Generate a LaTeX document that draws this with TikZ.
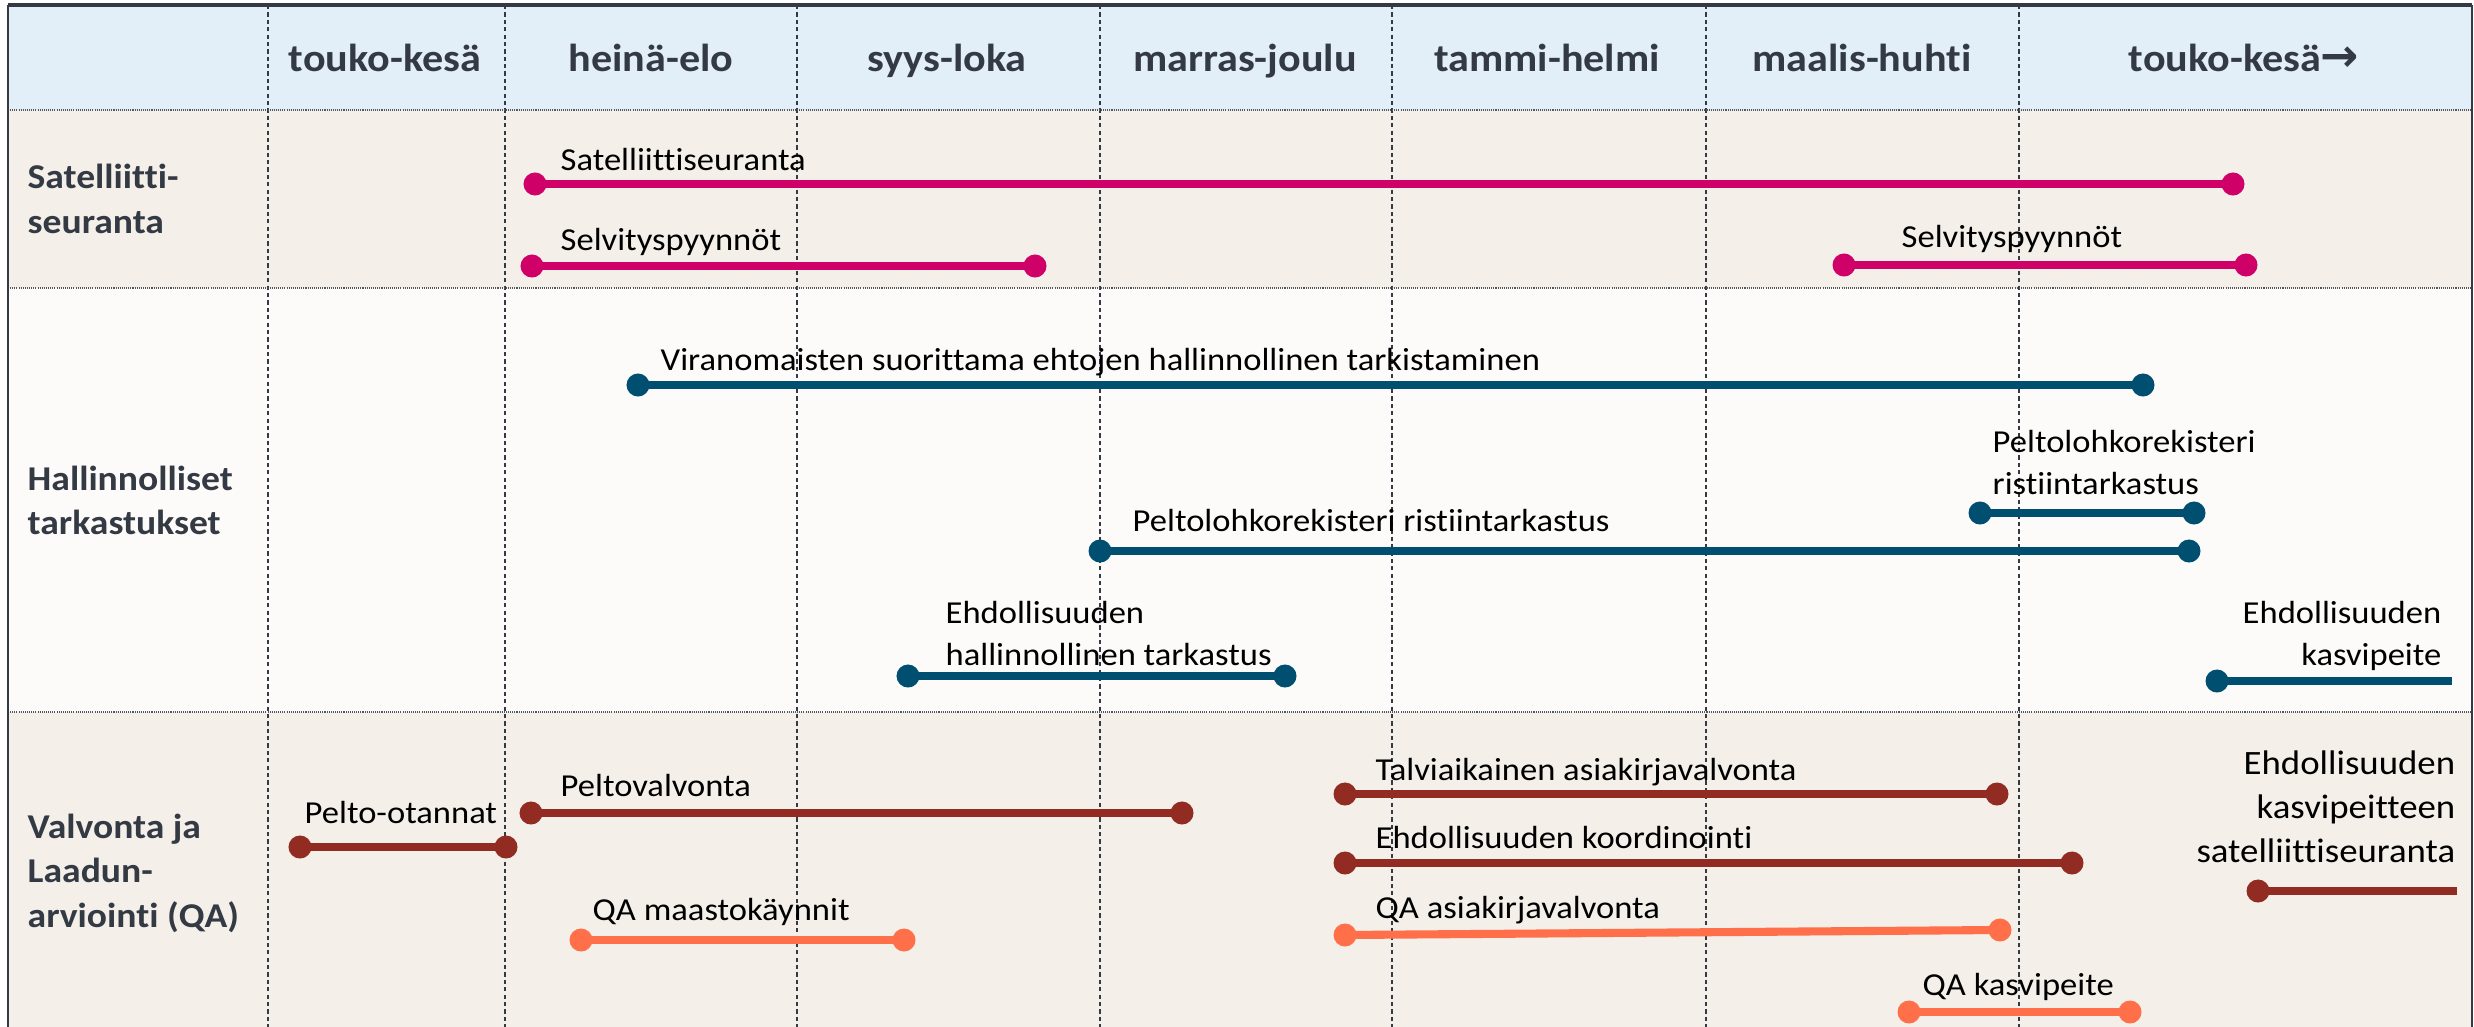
\documentclass[tikz,border=0pt]{standalone}
\usepackage{fontspec}
\setmainfont{Carlito}[FakeStretch=1.08, Ligatures={NoCommon}]
\newfontfamily\arrowfont{DejaVu Sans}
\definecolor{hdrbg}{HTML}{E2EEF8}
\definecolor{beige}{HTML}{F4F0E9}
\definecolor{paper}{HTML}{FCFBF9}
\definecolor{ink}{HTML}{343A44}
\definecolor{mag}{HTML}{CF0068}
\definecolor{navy}{HTML}{004F71}
\definecolor{brick}{HTML}{922B21}
\definecolor{coral}{HTML}{FF6F4A}
\pgfdeclarelayer{bg}
\pgfdeclarelayer{bars}
\pgfsetlayers{bg,bars,main}
\tikzset{
  hdr/.style={anchor=base, inner sep=0pt, text=ink, font=\fontsize{11.1}{13}\selectfont\bfseries},
  rowlab/.style={anchor=base west, inner sep=0pt, text=ink, font=\fontsize{9.9}{12.7}\selectfont\bfseries},
  lab/.style={anchor=base west, inner sep=0pt, text=black, font=\fontsize{9.1}{12}\selectfont},
  labr/.style={lab, anchor=base east},
  dot/.style={circle, fill=#1, inner sep=0pt, minimum size=0.23cm},
  bar/.style={draw=#1, line width=2.3pt},
  gridline/.style={draw=ink, line width=0.6pt, dash pattern=on 1.2pt off 0.9pt},
  sepline/.style={draw=ink!85, line width=0.8pt, dash pattern=on 0.3pt off 0.3pt},
  frame/.style={draw=ink, line width=0.6pt},
}
\begin{document}
\begin{tikzpicture}[x=0.01cm, y=-0.01cm]
\useasboundingbox (0,0) rectangle (2474,1027);
\begin{pgfonlayer}{bg}
  \fill[white] (0,0) rectangle (2474,1027);
  \fill[hdrbg] (8,5) rectangle (2472,110);
  \fill[beige] (8,110) rectangle (2472,288);
  \fill[paper] (8,288) rectangle (2472,712);
  \fill[beige] (8,712) rectangle (2472,1027);
  \foreach \x in {268,505,797,1100,1392,1706,2019}
    \draw[gridline] (\x,5) -- (\x,1027);
  \foreach \y in {110,288,712}
    \draw[sepline] (8,\y) -- (2472,\y);
  \draw[frame] (8,1027) -- (8,5);
  \draw[frame] (2472,5) -- (2472,1027);
  \draw[frame, line width=1pt] (8,5) -- (2472,5);
\end{pgfonlayer}

% header
\node[hdr] (m1) at (385,71) {touko-kesä};
\node[hdr] (m2) at (651,71) {heinä-elo};
\node[hdr] (m3) at (947,71) {syys-loka};
\node[hdr] (m4) at (1245,71) {marras-joulu};
\node[hdr] (m5) at (1547,71) {tammi-helmi};
\node[hdr] (m6) at (1862,71) {maalis-huhti};
\node[hdr] (m7) at (2244,71) {touko-kesä{\arrowfont\bfseries\fontsize{13}{13}\selectfont →}};

% row labels
\node[rowlab] (r1) at (27,189) {\begin{tabular}[t]{@{}l@{}}Satelliitti-\\seuranta\end{tabular}};
\node[rowlab] (r2) at (27,490) {\begin{tabular}[t]{@{}l@{}}Hallinnolliset\\tarkastukset\end{tabular}};
\node[rowlab] (r3) at (27,838) {\begin{tabular}[t]{@{}l@{}}Valvonta ja\\Laadun-\\arviointi (QA)\end{tabular}};

% row 1: satellite
\node[dot=mag] (s1a) at (535,184) {};
\node[dot=mag] (s1b) at (2233,184) {};
\node[dot=mag] (s2a) at (532,266) {};
\node[dot=mag] (s2b) at (1035,266) {};
\node[dot=mag] (s3a) at (1844,265) {};
\node[dot=mag] (s3b) at (2246,265) {};
\node[lab] (ls1) at (560,170) {Satelliittiseuranta};
\node[lab] (ls2) at (560,250) {Selvityspyynnöt};
\node[lab] (ls3) at (1901,247) {Selvityspyynnöt};

% row 2: administrative
\node[dot=navy] (h1a) at (638,385) {};
\node[dot=navy] (h1b) at (2143,385) {};
\node[dot=navy] (h2a) at (1100,551) {};
\node[dot=navy] (h2b) at (2189,551) {};
\node[dot=navy] (h3a) at (1980,513) {};
\node[dot=navy] (h3b) at (2194,513) {};
\node[dot=navy] (h4a) at (908,676) {};
\node[dot=navy] (h4b) at (1285,676) {};
\node[dot=navy] (h5a) at (2217,681) {};
\coordinate (h5b) at (2452,681);
\node[lab] (lh1) at (660,370) {Viranomaisten suorittama ehtojen hallinnollinen tarkistaminen};
\node[lab] (lh2) at (1132,531) {Peltolohkorekisteri ristiintarkastus};
\node[lab] (lh3) at (1992,452) {\begin{tabular}[t]{@{}l@{}}Peltolohkorekisteri\\ristiintarkastus\end{tabular}};
\node[lab] (lh4) at (945,623) {\begin{tabular}[t]{@{}l@{}}Ehdollisuuden\\hallinnollinen tarkastus\end{tabular}};
\node[labr] (lh5) at (2442,623) {\begin{tabular}[t]{@{}r@{}}Ehdollisuuden\\kasvipeite\end{tabular}};

% row 3: control and QA
\node[dot=brick] (v1a) at (300,847) {};
\node[dot=brick] (v1b) at (506,847) {};
\node[dot=brick] (v2a) at (531,813) {};
\node[dot=brick] (v2b) at (1182,813) {};
\node[dot=coral] (v3a) at (581,940) {};
\node[dot=coral] (v3b) at (904,940) {};
\node[dot=brick] (v4a) at (1345,794) {};
\node[dot=brick] (v4b) at (1997,794) {};
\node[dot=brick] (v5a) at (1345,863) {};
\node[dot=brick] (v5b) at (2072,863) {};
\node[dot=coral] (v6a) at (1345,935) {};
\node[dot=coral] (v6b) at (2000,930) {};
\node[dot=coral] (v7a) at (1909,1012) {};
\node[dot=coral] (v7b) at (2130,1012) {};
\node[dot=brick] (v8a) at (2258,891) {};
\coordinate (v8b) at (2457,891);
\node[lab] (lv1) at (304,823) {Pelto-otannat};
\node[lab] (lv2) at (560,796) {Peltovalvonta};
\node[lab] (lv3) at (592,920) {QA maastokäynnit};
\node[lab] (lv4) at (1375,780) {Talviaikainen asiakirjavalvonta};
\node[lab] (lv5) at (1375,848) {Ehdollisuuden koordinointi};
\node[lab] (lv6) at (1375,918) {QA asiakirjavalvonta};
\node[lab] (lv7) at (1922,995) {QA kasvipeite};
\node[labr, font=\fontsize{9.7}{12.6}\selectfont] (lv8) at (2456,774) {\begin{tabular}[t]{@{}r@{}}Ehdollisuuden\\kasvipeitteen\\satelliittiseuranta\end{tabular}};

\begin{pgfonlayer}{bars}
  \draw[bar=mag] (s1a.center) -- (s1b.center);
  \draw[bar=mag] (s2a.center) -- (s2b.center);
  \draw[bar=mag] (s3a.center) -- (s3b.center);
  \draw[bar=navy] (h1a.center) -- (h1b.center);
  \draw[bar=navy] (h2a.center) -- (h2b.center);
  \draw[bar=navy] (h3a.center) -- (h3b.center);
  \draw[bar=navy] (h4a.center) -- (h4b.center);
  \draw[bar=navy] (h5a.center) -- (h5b);
  \draw[bar=brick] (v1a.center) -- (v1b.center);
  \draw[bar=brick] (v2a.center) -- (v2b.center);
  \draw[bar=coral] (v3a.center) -- (v3b.center);
  \draw[bar=brick] (v4a.center) -- (v4b.center);
  \draw[bar=brick] (v5a.center) -- (v5b.center);
  \draw[bar=coral] (v6a.center) -- (v6b.center);
  \draw[bar=coral] (v7a.center) -- (v7b.center);
  \draw[bar=brick] (v8a.center) -- (v8b);
\end{pgfonlayer}
\end{tikzpicture}
\end{document}
